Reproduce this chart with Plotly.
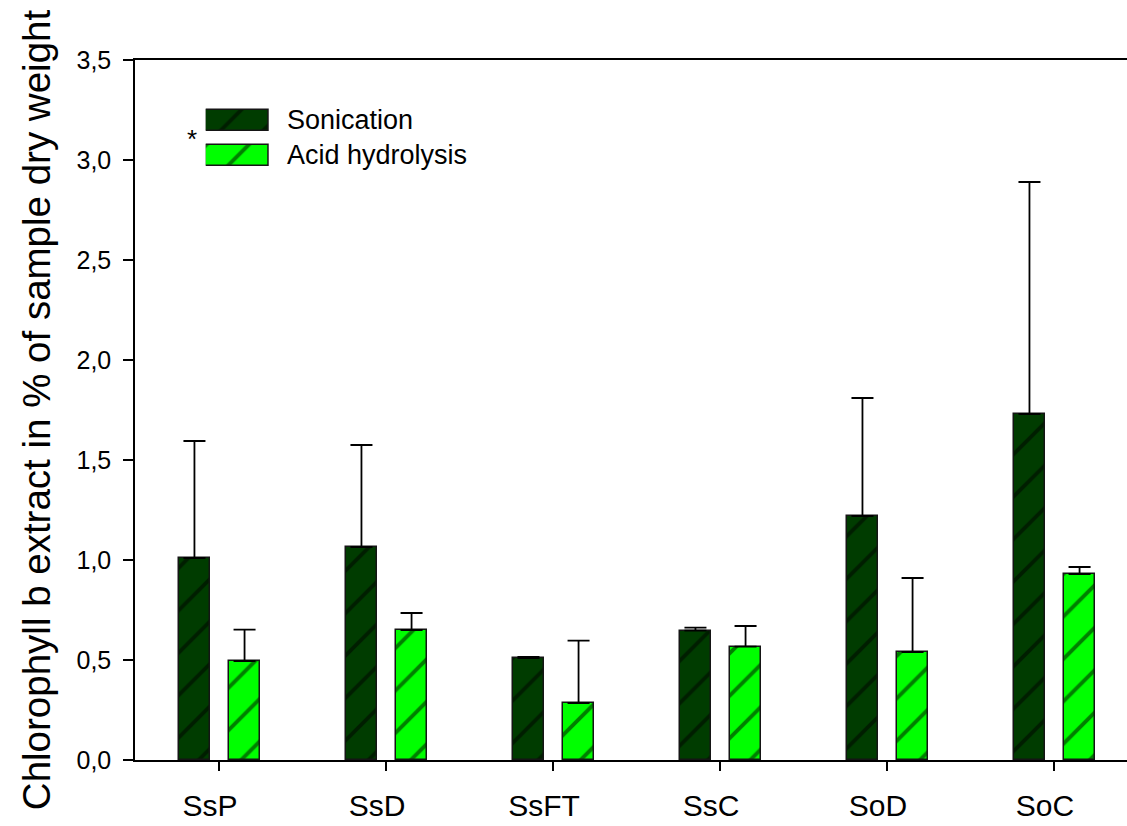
import plotly.graph_objects as go

categories = ["SsP", "SsD", "SsFT", "SsC", "SoD", "SoC"]
sonication = [1.01, 1.065, 0.51, 0.647, 1.22, 1.73]
sonication_top = [1.595, 1.575, 0.515, 0.662, 1.81, 2.89]
acid = [0.495, 0.65, 0.285, 0.567, 0.54, 0.93]
acid_top = [0.652, 0.735, 0.597, 0.67, 0.91, 0.965]

series_names = ["Sonication", "Acid hydrolysis"]
series_colors = ["#003c00", "#00ff00"]

son_err = [t - v for t, v in zip(sonication_top, sonication)]
acid_err = [t - v for t, v in zip(acid_top, acid)]

FONT = "Liberation Sans, Arial, sans-serif"
PATTERN = dict(shape="/", fgcolor="black", size=30, solidity=0.13)
OUTLINE = dict(color="#151515", width=1.5)

fig = go.Figure()
fig.add_trace(go.Bar(
    x=categories, y=sonication, name=series_names[0],
    width=0.186, offset=-0.24, showlegend=False,
    marker=dict(color=series_colors[0], line=OUTLINE, pattern=PATTERN),
    error_y=dict(type="data", array=son_err, arrayminus=[0]*6, symmetric=False,
                 color="black", thickness=1.8, width=11),
))
fig.add_trace(go.Bar(
    x=categories, y=acid, name=series_names[1],
    width=0.186, offset=0.06, showlegend=False,
    marker=dict(color=series_colors[1], line=OUTLINE, pattern=PATTERN),
    error_y=dict(type="data", array=acid_err, arrayminus=[0]*6, symmetric=False,
                 color="black", thickness=1.8, width=11),
))

# legend swatches drawn as patterned bars in a small inset axis
for i, (nm, col) in enumerate(zip(series_names, series_colors)):
    fig.add_trace(go.Bar(
        x=[1], y=[1 - i], orientation="h", xaxis="x2", yaxis="y2",
        width=0.6, showlegend=False, hoverinfo="skip",
        marker=dict(color=col, line=OUTLINE, pattern=PATTERN),
    ))
    fig.add_annotation(text=nm, x=0.1512, y=0.9136 - 0.05 * i, xref="paper", yref="paper",
                       xanchor="left", yanchor="middle", showarrow=False,
                       font=dict(size=27, family=FONT, color="black"))

fig.add_annotation(text="*", x=0.057, y=0.887, xref="paper", yref="paper",
                   xanchor="center", yanchor="middle",
                   showarrow=False, font=dict(size=26, color="black", family=FONT))

fig.update_layout(
    width=1127, height=826,
    margin=dict(l=135, r=0, t=60, b=66),
    plot_bgcolor="white", paper_bgcolor="white",
    separators=", ",
    font=dict(family=FONT, color="black"),
    showlegend=False,
    bargap=0,
    xaxis=dict(
        range=[-0.503, 5.437], showgrid=False, showline=True, linecolor="black",
        linewidth=1.5, mirror=True, ticks="outside", ticklen=9, tickwidth=1.5,
        tickcolor="black", tickfont=dict(size=30, family=FONT, color="black"),
        ticklabelstandoff=9, ticklabelshift=-9,
    ),
    yaxis=dict(
        range=[0, 3.5], dtick=0.5, tickformat=".1f", showgrid=False, zeroline=False,
        showline=True, linecolor="black", linewidth=1.5,
        ticks="outside", ticklen=10, tickwidth=1.5, tickcolor="black",
        tickfont=dict(size=25, family=FONT, color="black"), ticklabelstandoff=7,
        title=dict(text="Chlorophyll b extract in % of sample dry weight",
                   font=dict(size=38.5, family=FONT, color="black"), standoff=14),
    ),
    xaxis2=dict(domain=[0.0713, 0.1351], range=[0, 1], anchor="y2",
                visible=False, fixedrange=True),
    yaxis2=dict(domain=[0.8386, 0.9386], range=[-0.5, 1.5], anchor="x2",
                visible=False, fixedrange=True),
)

fig.write_html("out.html")
